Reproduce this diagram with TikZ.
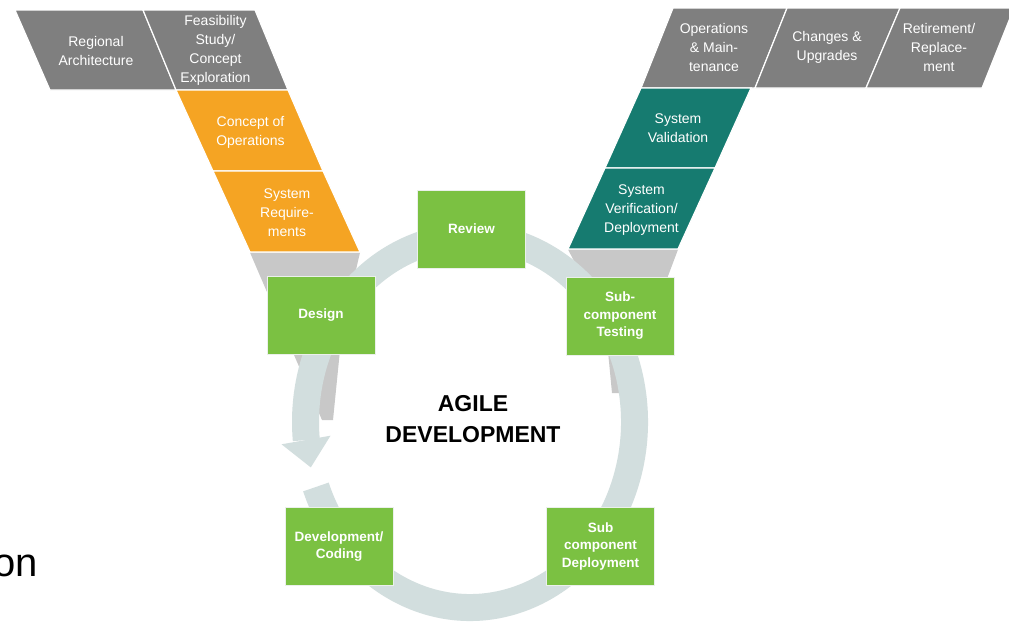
\documentclass[tikz,border=0pt]{standalone}
\usepackage{fontspec}
\setmainfont{Liberation Sans}
\definecolor{topgrey}{RGB}{127,127,127}
\definecolor{orangeC}{RGB}{245,164,35}
\definecolor{tealC}{RGB}{22,123,112}
\definecolor{greenC}{RGB}{123,193,66}
\definecolor{ringC}{RGB}{210,222,222}
\definecolor{funnelC}{RGB}{200,200,200}
\definecolor{boxedge}{RGB}{235,240,235}
\begin{document}
\begin{tikzpicture}[x=1pt,y=-1pt,
  phase/.style={draw=white,line width=1.2pt,line join=miter},
  ptext/.style={text=white,align=center,font=\fontsize{14}{19}\selectfont,inner sep=0pt},
  gbox/.style={fill=greenC,draw=boxedge,line width=1pt,minimum width=108pt,minimum height=78pt,text=white,align=center,font=\fontsize{13.5}{17.5}\selectfont\bfseries,inner sep=0pt},
  ringline/.style={draw=ringC,line width=27pt}
]
\useasboundingbox[fill=white] (0,0) rectangle (1009,621);

% grey funnels (behind ring)
\path[fill=funnelC] (250,252.5) -- (360,252.5) -- (342,330) -- (333,420) -- (322,420) -- cycle;
\path[fill=funnelC] (568,249.5) -- (678,249.5) -- (624,393) -- (612,393) -- (605,320) -- cycle;

% left arm of the V
\path[phase,fill=topgrey] (15,10) -- (143,10) -- (176,90) -- (50,90) -- cycle;
\path[phase,fill=topgrey] (143,10) -- (255,10) -- (288,90) -- (176,90) -- cycle;
\path[phase,fill=orangeC] (176,90) -- (288,90) -- (323,171) -- (213,171) -- cycle;
\path[phase,fill=orangeC] (213,171) -- (323,171) -- (360,252) -- (250,252) -- cycle;

% right arm of the V
\path[phase,fill=topgrey] (673,8) -- (787,8) -- (755,88) -- (641,88) -- cycle;
\path[phase,fill=topgrey] (787,8) -- (900,8) -- (866,88) -- (755,88) -- cycle;
\path[phase,fill=topgrey] (900,8) -- (1014,8) -- (982,88) -- (866,88) -- cycle;
\path[phase,fill=tealC] (641,88) -- (751,88) -- (715,168) -- (605,168) -- cycle;
\path[phase,fill=tealC] (605,168) -- (715,168) -- (678,249) -- (568,249) -- cycle;

% phase labels
\node[ptext] (regional) at (96,51) {Regional\\Architecture};
\node[ptext] (feas) at (215.5,50.5) {Feasibility\\Study/\\Concept\\Exploration};
\node[ptext] (conops) at (250.5,132) {Concept of\\Operations};
\node[ptext] (sysreq) at (287,212.5) {System\\Require-\\ments};
\node[ptext] (opsm) at (714,47) {Operations\\\& Main-\\tenance};
\node[ptext] (changes) at (827,47.5) {Changes \&\\Upgrades};
\node[ptext] (retire) at (939,47) {Retirement/\\Replace-\\ment};
\node[ptext] (sysval) at (678,128) {System\\Validation};
\node[ptext] (sysver) at (641.5,210) {System\\Verification/\\Deployment};

% agile cycle ring
\draw[ringline] (470,422) ++(159.5:164.5 and 185.5)
  arc[start angle=159.5, end angle=-185.6, x radius=164.5, y radius=185.5];
\coordinate (headL) at (281.5,444.3);
\coordinate (headR) at (330.5,435.7);
\coordinate (headT) at (310.8,467.4);
\fill[ringC] (headL) -- (headR) -- (headT) -- cycle;

% agile steps
\node[gbox] (review) at (471.5,229) {Review};
\node[gbox] (design) at (321,315) {Design};
\node[gbox] (subtest) at (620,316) {Sub-\\component\\Testing};
\node[gbox] (devcode) at (339,546.5) {Development/\\Coding};
\node[gbox] (subdep) at (600.5,546.5) {Sub\\component\\Deployment};

\node[font=\fontsize{23}{31}\selectfont\bfseries, align=center, inner sep=0pt] (agile) at (473,419) {AGILE\\DEVELOPMENT};

\node[anchor=base east, font=\fontsize{40}{48}\selectfont, inner sep=0pt] (on) at (38,576) {on};
\end{tikzpicture}
\end{document}
